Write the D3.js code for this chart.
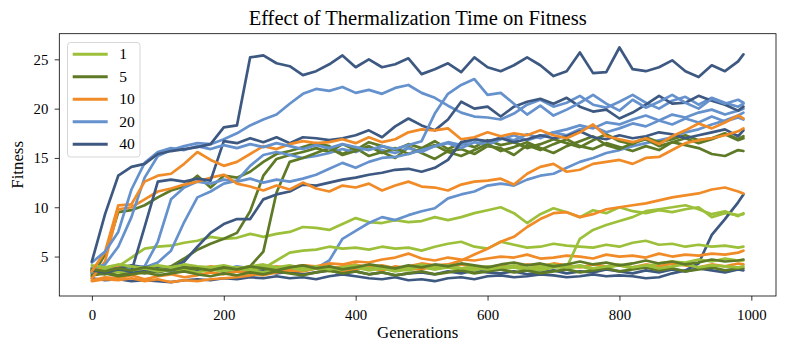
<!DOCTYPE html>
<html lang="en">
<head>
<meta charset="UTF-8"/>
<title>Effect of Thermalization Time on Fitness</title>
<script src="https://d3js.org/d3.v7.min.js"></script>
<style>
    body { margin: 0; background: #fff; }
    svg text { font-family: "Liberation Serif", "DejaVu Serif", serif; fill: #000; }
</style>
</head>
<body>
<script>
    // Sampled generations (every 20, plus the last one)
    var gens = d3.range(0, 1000, 20).concat([988]);
    var xTicks = [0, 200, 400, 600, 800, 1000];
    var yTicks = [5, 10, 15, 20, 25];
    var thermTimes = ["1", "5", "10", "20", "40"];
    var colours = ["#9dc03b", "#5e7a26", "#f08b28", "#6591cd", "#3e5981"];

    // Fitness per run, thermalization time 1
    var fit1 = [
        [3.8,3.6,4.0,4.9,5.8,6.0,6.1,6.4,6.6,7.0, 6.8,6.9,7.3,7.0,7.3,7.5,8.0,7.9,7.7,8.3,
         8.9,8.5,8.4,8.7,8.5,8.6,9.0,8.7,9.0,9.4, 9.7,10.0,9.4,8.4,9.3,9.9,9.5,9.0,9.7,9.4,
         10.0,9.6,9.4,9.7,9.5,9.8,10.0,9.0,9.4,9.2, 9.3],
        [3.6,3.8,3.5,3.7,3.9,3.6,3.8,3.7,3.5,3.8, 3.6,3.9,3.7,3.8,4.6,5.4,5.6,5.7,6.0,5.8,
         5.9,5.7,6.0,5.8,5.9,5.6,6.0,6.3,6.5,6.0, 5.8,6.5,6.2,5.9,6.0,6.3,6.1,6.0,5.9,6.2,
         6.0,6.4,6.6,6.2,6.3,6.0,6.2,6.0,6.1,5.9, 6.0],
        [3.9,3.7,3.6,3.8,3.5,3.7,3.9,3.6,3.8,3.7, 3.9,3.6,3.8,4.0,3.7,3.9,3.6,3.8,4.0,3.7,
         3.9,3.7,4.0,3.8,3.6,3.9,3.7,4.0,3.8,3.6, 3.9,3.7,4.0,3.8,3.6,3.9,3.9,6.8,7.7,8.2,
         8.6,9.0,9.6,9.8,10.0,10.2,9.8,9.3,9.6,9.1, 9.4],
        [3.5,3.7,3.4,3.6,3.8,3.5,3.7,3.6,3.4,3.7, 3.5,3.8,3.6,3.4,3.7,3.9,3.6,3.8,3.5,3.7,
         3.9,3.6,3.8,3.5,3.7,4.0,3.7,3.9,3.6,3.8, 4.0,3.7,3.9,3.6,3.8,4.1,3.8,4.0,3.7,3.9,
         4.1,3.8,4.0,4.3,4.5,4.4,4.7,4.5,4.8,4.6, 4.6],
        [4.1,3.9,4.2,4.0,3.8,4.1,3.9,4.2,4.0,3.9, 4.1,3.8,4.0,4.2,3.9,4.1,3.8,4.0,3.7,3.9,
         4.1,3.8,4.0,3.7,3.9,4.2,3.9,4.1,3.8,4.0, 3.7,3.9,4.1,3.8,4.0,4.2,3.9,4.1,3.8,4.0,
         4.2,3.9,4.1,3.8,4.0,4.2,3.9,4.1,4.0,3.9, 4.0]
    ];

    // Thermalization time 5
    var fit5 = [
        [3.0,5.2,9.5,9.7,10.2,11.0,11.7,12.1,13.2,12.0, 13.2,13.0,13.6,14.6,15.4,15.7,16.1,16.5,16.2,15.4,
         16.0,15.2,15.6,15.0,16.1,15.5,14.9,15.7,15.9,15.4, 16.2,16.0,15.3,16.3,15.8,16.4,16.9,16.2,15.9,16.5,
         16.1,15.7,16.2,15.8,16.6,16.3,16.0,15.4,15.2,15.8, 15.7],
        [3.2,3.4,3.1,3.5,3.3,3.6,4.0,4.8,5.7,6.3, 6.8,7.4,9.6,13.2,14.9,15.3,15.6,16.0,15.6,16.4,
         15.8,16.6,16.2,15.8,16.4,16.0,16.7,15.9,16.5,16.1, 16.8,16.3,16.6,16.0,16.4,16.9,16.5,16.1,16.8,17.4,
         16.7,16.4,17.1,16.6,16.9,17.3,16.8,17.0,17.5,16.9, 17.2],
        [3.4,3.2,3.5,3.3,3.6,3.4,3.7,3.5,3.8,3.6, 3.9,3.7,4.0,5.5,11.5,14.6,15.0,15.5,16.0,15.3,
         15.7,16.2,15.5,16.0,15.4,15.9,16.3,15.6,15.2,15.8, 16.4,15.7,16.1,16.6,16.0,15.5,16.2,16.7,17.2,16.3,
         15.9,16.5,16.9,16.2,16.6,17.0,16.5,16.9,17.4,16.8, 17.0],
        [3.1,3.3,3.0,3.2,3.4,3.1,3.3,3.5,3.2,3.0, 3.3,3.1,3.4,3.2,3.5,3.3,3.1,3.4,3.6,3.3,
         3.5,3.2,3.4,3.1,3.3,3.5,3.2,3.4,3.6,3.3, 3.5,3.7,3.4,3.6,3.3,3.5,3.7,3.4,3.6,3.8,
         3.5,3.7,3.9,3.6,3.8,3.5,3.7,3.9,3.6,3.8, 3.8],
        [3.7,3.5,3.8,3.6,3.9,3.7,3.6,3.9,3.8,3.6, 3.9,3.7,4.0,3.8,3.6,3.9,4.1,3.8,4.0,3.7,
         3.9,4.2,4.0,3.8,4.1,3.9,4.2,4.0,4.3,4.1, 3.9,4.2,4.4,4.1,4.3,4.0,4.2,4.5,4.2,4.4,
         4.1,4.3,4.6,4.3,4.5,4.2,4.4,4.7,4.5,4.6, 4.7]
    ];

    // Thermalization time 10
    var fit10 = [
        [3.8,3.6,3.9,3.7,3.5,3.8,3.6,3.9,3.7,4.0, 3.8,3.6,3.9,3.7,4.0,3.8,4.1,3.9,3.7,4.0,
         4.2,3.9,4.1,3.8,4.0,4.3,4.1,3.9,4.2,4.0, 3.8,4.1,3.9,4.2,4.0,4.3,4.1,3.9,4.2,4.0,
         4.1,3.9,4.2,4.0,4.3,4.1,3.9,4.2,4.0,4.3, 4.2],
        [2.5,2.7,2.6,2.8,2.5,2.7,2.4,2.6,2.5,2.7, 2.8,2.9,3.1,3.3,3.6,3.9,4.1,4.0,4.3,4.2,
         4.5,4.4,4.7,4.9,5.3,4.8,4.6,4.9,4.7,4.6, 4.8,5.0,4.9,5.2,4.8,4.9,5.1,5.0,4.8,5.2,
         5.0,5.1,4.9,5.3,5.0,5.2,5.1,5.3,5.2,5.4, 5.6],
        [2.6,2.9,2.8,3.1,2.7,3.0,3.2,2.9,3.1,3.4, 3.2,3.5,3.3,3.1,3.4,3.6,3.5,3.8,3.6,3.4,
         3.7,3.9,3.6,4.0,3.8,3.7,4.1,4.2,4.6,5.2, 5.8,6.5,7.0,8.0,8.8,9.4,9.5,9.0,9.3,9.8,
         10.0,10.2,10.4,10.7,11.0,11.2,11.4,11.8,12.0,11.6, 11.4],
        [2.8,4.5,9.8,10.0,10.8,11.6,11.9,12.3,12.6,13.0, 13.3,12.4,12.1,11.7,12.2,11.8,12.5,11.9,11.6,12.2,
         12.0,12.4,11.7,12.2,12.6,12.1,12.0,11.7,12.3,12.6, 12.7,12.9,12.3,13.4,14.1,14.4,13.6,13.8,14.4,14.6,
         14.8,14.4,15.0,15.1,15.8,16.5,16.8,17.0,17.3,17.7, 18.0],
        [3.5,5.5,10.2,10.3,12.6,13.2,13.4,14.4,15.6,14.8, 14.2,14.6,15.4,16.2,15.9,16.4,16.7,16.5,16.6,16.9,
         16.5,17.1,16.6,16.9,17.6,17.9,17.8,18.0,16.9,17.1, 17.6,17.2,17.5,17.3,17.8,17.3,17.0,17.6,18.4,17.2,
         16.9,16.6,17.0,16.4,17.2,17.8,18.5,18.0,18.6,19.3, 19.0]
    ];

    // Thermalization time 20
    var fit20 = [
        [3.7,3.5,3.8,3.6,3.9,3.7,3.5,3.8,3.6,3.9, 3.7,4.0,3.8,3.6,3.9,3.7,4.0,3.8,4.6,6.8,
         7.6,8.4,9.0,8.7,9.2,9.6,9.9,10.9,11.3,11.6, 12.2,12.4,12.2,12.8,13.2,13.4,14.0,14.6,15.0,15.5,
         15.8,16.2,16.5,16.8,17.1,17.6,17.9,18.4,18.8,19.3, 19.6],
        [3.6,3.8,3.5,3.7,3.9,4.4,5.6,8.5,11.0,11.6, 12.4,12.7,14.2,15.3,15.6,15.3,15.0,15.2,15.5,15.9,
         15.6,16.1,15.8,15.5,16.0,15.6,16.2,16.5,16.0,16.6, 16.3,16.9,17.3,16.8,17.2,17.6,17.3,17.9,18.2,17.6,
         18.0,18.5,18.2,18.8,18.4,19.0,18.6,19.2,18.7,19.1, 18.9],
        [3.4,3.6,3.5,3.8,4.0,6.5,10.8,12.0,12.6,12.4, 12.8,12.6,12.9,12.5,12.8,12.6,12.9,13.3,13.9,14.5,
         14.0,14.6,15.0,15.1,15.4,15.8,16.2,16.6,16.3,16.9, 16.6,17.1,16.8,17.4,17.0,17.6,17.9,18.3,18.0,18.6,
         18.4,18.9,19.3,18.8,19.4,19.1,19.6,19.9,19.4,19.8, 20.0],
        [3.8,4.2,6.0,9.0,13.0,15.2,15.8,16.2,16.5,16.4, 16.9,17.5,18.3,18.9,19.4,20.5,21.5,22.0,21.8,22.2,
         21.6,21.9,21.5,22.1,22.4,21.6,21.1,20.3,19.6,19.2, 19.1,18.9,19.5,20.4,20.9,20.2,20.6,21.3,20.4,20.1,
         20.7,21.4,20.6,20.0,20.8,21.2,20.4,21.1,20.6,20.2, 20.5],
        [4.4,5.5,7.5,11.8,14.5,15.6,16.0,15.8,16.2,15.9, 16.3,16.0,16.4,16.1,16.5,16.2,15.9,16.3,16.0,16.4,
         16.1,15.8,16.2,15.9,16.3,16.7,19.5,21.5,22.4,23.0, 21.4,21.6,20.5,19.4,20.3,19.3,19.9,20.6,21.4,20.5,
         19.8,20.9,20.1,20.7,21.4,20.6,20.0,21.0,20.5,20.9, 20.6]
    ];

    // Thermalization time 40
    var fit40 = [
        [2.8,2.6,2.7,2.5,2.6,2.5,2.4,2.6,2.7,2.6, 2.8,2.7,2.9,2.8,3.0,2.8,2.9,2.7,3.0,3.2,
         3.0,2.8,2.7,2.9,2.6,2.7,2.5,2.8,2.9,2.7, 3.0,3.1,2.9,3.0,3.2,3.1,2.9,3.0,3.2,3.0,
         3.1,3.0,2.8,2.9,3.3,3.6,4.3,7.2,8.8,10.5, 11.3],
        [3.3,3.6,3.8,4.1,3.9,4.0,3.7,3.9,3.6,3.8, 3.5,3.7,3.4,3.6,3.3,3.5,3.2,3.4,3.6,3.3,
         3.5,3.2,3.4,3.1,3.3,3.4,3.2,3.5,3.3,3.6, 3.4,3.3,3.5,3.2,3.4,3.6,3.3,3.5,3.4,3.7,
         3.5,3.3,3.6,3.4,3.7,3.5,3.8,3.6,3.4,3.7, 3.6],
        [3.5,3.3,3.6,3.4,3.7,3.5,3.8,4.5,6.0,7.4, 8.3,8.8,8.8,10.8,11.3,11.6,12.3,12.2,12.5,12.8,
         13.0,13.3,13.5,13.8,13.9,13.6,14.0,14.8,16.6,16.9, 16.7,17.0,16.6,16.9,17.3,17.0,17.2,17.7,17.1,16.9,
         17.3,17.0,17.2,17.6,17.4,17.0,17.3,17.6,17.9,17.2, 17.8],
        [3.6,3.4,3.7,3.5,8.0,12.6,12.8,12.6,12.9,12.7, 16.7,16.5,17.0,16.6,17.1,16.5,17.1,17.0,16.8,17.0,
         17.3,17.8,17.1,18.2,19.0,18.3,17.8,18.9,20.7,20.0, 20.2,19.2,20.2,20.7,21.0,20.5,21.1,20.2,19.7,19.9,
         19.0,19.6,20.4,21.3,20.5,20.6,21.3,20.8,20.4,19.8, 20.2],
        [4.5,9.3,13.2,14.1,14.4,15.4,15.7,15.9,16.1,16.4, 18.1,18.3,25.2,25.4,24.6,24.3,23.4,23.8,24.5,25.4,
         24.2,25.0,24.2,24.5,25.1,23.5,24.0,24.6,23.7,25.2, 24.2,23.8,24.4,25.2,24.4,23.3,23.8,25.7,23.6,23.7,
         26.2,24.0,23.8,24.2,24.9,23.8,23.2,24.4,23.8,24.8, 25.5]
    ];

    var groups = [fit1, fit5, fit10, fit20, fit40];

    // Canvas and plot frame
    var W = 788, H = 354;
    var frame = { left: 59.3, right: 776, top: 33.7, bottom: 296 };

    var svg = d3.select("body")
                .append("svg")
                .attr("width", W)
                .attr("height", H);

    var xScale = d3.scaleLinear()
                   .domain([-49.4, 1037.4])
                   .range([frame.left, frame.right]);

    var yScale = d3.scaleLinear()
                   .domain([1.0, 27.6])
                   .range([frame.bottom, frame.top]);

    svg.append("clipPath")
       .attr("id", "plotclip")
       .append("rect")
       .attr("x", frame.left)
       .attr("y", frame.top)
       .attr("width", frame.right - frame.left)
       .attr("height", frame.bottom - frame.top);

    var line = d3.line()
                 .x(function(d, i) { return xScale(gens[i]); })
                 .y(function(d) { return yScale(d); });

    var plot = svg.append("g").attr("clip-path", "url(#plotclip)");

    // Runs interleaved so colours overlap like in the original
    var maxRuns = d3.max(groups, function(g) { return g.length; });
    for (var r = 0; r < maxRuns; r++) {
        groups.forEach(function(g, k) {
            if (!g[r]) return;
            plot.append("path")
                .datum(g[r])
                .attr("d", line)
                .attr("fill", "none")
                .attr("stroke", colours[k])
                .attr("stroke-width", 2.7)
                .attr("stroke-linejoin", "round")
                .attr("stroke-linecap", "round");
        });
    }

    // Axes
    var xAxis = svg.append("g")
       .attr("transform", "translate(0," + frame.bottom + ")")
       .call(d3.axisBottom(xScale).tickValues(xTicks).tickFormat(d3.format("d"))
               .tickSize(4.7).tickPadding(8.4));
    var yAxis = svg.append("g")
       .attr("transform", "translate(" + frame.left + ",0)")
       .call(d3.axisLeft(yScale).tickValues(yTicks).tickSize(4.6).tickPadding(6.4));

    [xAxis, yAxis].forEach(function(a) {
        a.select(".domain").remove();
        a.selectAll(".tick line").attr("stroke", "#000").attr("stroke-width", 0.8);
        a.selectAll(".tick text")
         .attr("font-family", "Liberation Serif, DejaVu Serif, serif")
         .attr("font-size", 14.8);
    });

    svg.append("rect")
       .attr("x", frame.left)
       .attr("y", frame.top)
       .attr("width", frame.right - frame.left)
       .attr("height", frame.bottom - frame.top)
       .attr("fill", "none")
       .attr("stroke", "#000")
       .attr("stroke-width", 0.8);

    // Title and labels
    svg.append("text")
       .attr("x", (frame.left + frame.right) / 2)
       .attr("y", 25)
       .attr("text-anchor", "middle")
       .attr("font-size", 20.5)
       .text("Effect of Thermalization Time on Fitness");

    svg.append("text")
       .attr("x", (frame.left + frame.right) / 2)
       .attr("y", 338)
       .attr("text-anchor", "middle")
       .attr("font-size", 16.8)
       .text("Generations");

    svg.append("text")
       .attr("transform", "translate(23," + ((frame.top + frame.bottom) / 2) + ") rotate(-90)")
       .attr("text-anchor", "middle")
       .attr("font-size", 16.8)
       .text("Fitness");

    // Legend
    var legend = svg.append("g");
    legend.append("rect")
          .attr("x", 67.5)
          .attr("y", 42.5)
          .attr("width", 72.5)
          .attr("height", 114.5)
          .attr("rx", 3)
          .attr("fill", "#fff")
          .attr("fill-opacity", 0.8)
          .attr("stroke", "#cccccc")
          .attr("stroke-width", 0.8);

    thermTimes.forEach(function(t, i) {
        var cy = 54.3 + i * 22.5;
        legend.append("line")
              .attr("x1", 72.7).attr("x2", 107.7)
              .attr("y1", cy).attr("y2", cy)
              .attr("stroke", colours[i])
              .attr("stroke-width", 3);
        legend.append("text")
              .attr("x", 119.3)
              .attr("y", cy + 5)
              .attr("font-size", 15.5)
              .text(t);
    });
</script>
</body>
</html>
